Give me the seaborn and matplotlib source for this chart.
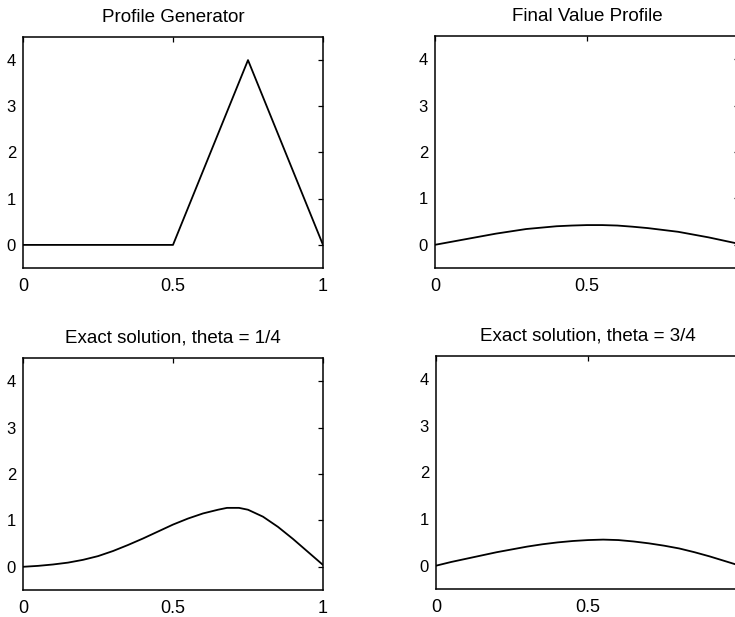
import numpy as np
import pandas as pd
import matplotlib
matplotlib.use("Agg")
import matplotlib.pyplot as plt
import seaborn as sns

sns.set_theme(style="white")
plt.rcParams['font.family'] = ['Liberation Sans', 'DejaVu Sans']

# ---- data ----
gen_x = [0.0, 0.5, 0.75, 1.0]
gen_y = [0.0, 0.0, 4.0, 0.0]

final_x = [0.0, 0.05, 0.1, 0.15, 0.2, 0.25, 0.3, 0.35, 0.4, 0.45, 0.5,
           0.55, 0.6, 0.65, 0.7, 0.75, 0.8, 0.85, 0.9, 0.95, 1.0]
final_y = [0.0, 0.06, 0.12, 0.18, 0.24, 0.29, 0.34, 0.37, 0.40, 0.415, 0.425,
           0.425, 0.415, 0.39, 0.36, 0.32, 0.28, 0.22, 0.16, 0.09, 0.02]

exact14_x = [0.0, 0.05, 0.1, 0.15, 0.2, 0.25, 0.3, 0.35, 0.4, 0.45, 0.5,
             0.55, 0.6, 0.65, 0.68, 0.72, 0.75, 0.8, 0.85, 0.9, 0.95, 1.0]
exact14_y = [0.0, 0.02, 0.05, 0.09, 0.15, 0.23, 0.34, 0.47, 0.61, 0.76, 0.91,
             1.04, 1.15, 1.23, 1.27, 1.27, 1.23, 1.08, 0.86, 0.60, 0.32, 0.04]

exact34_x = [0.0, 0.05, 0.1, 0.15, 0.2, 0.25, 0.3, 0.35, 0.4, 0.45, 0.5,
             0.55, 0.6, 0.65, 0.7, 0.75, 0.8, 0.85, 0.9, 0.95, 1.0]
exact34_y = [0.0, 0.08, 0.15, 0.22, 0.29, 0.35, 0.41, 0.46, 0.50, 0.53, 0.55,
             0.56, 0.55, 0.52, 0.48, 0.43, 0.37, 0.29, 0.20, 0.10, 0.0]

titles = ["Profile Generator", "Final Value Profile",
          "Exact solution, theta = 1/4", "Exact solution, theta = 3/4"]
x_ticks = [0, 0.5, 1]
x_tick_labels = ["0", "0.5", "1"]
y_ticks = [0, 1, 2, 3, 4]

series = [(gen_x, gen_y), (final_x, final_y),
          (exact14_x, exact14_y), (exact34_x, exact34_y)]

W, H = 735, 617
fig = plt.figure(figsize=(W / 100, H / 100), dpi=100)

# axes boxes in pixels: left, top, right, bottom
boxes = [(23, 37, 323, 268), (435, 36, 739, 268),
         (23, 358, 323, 590), (436, 356, 740, 589)]

for (l, t, r, b), title, (xs, ys) in zip(boxes, titles, series):
    ax = fig.add_axes([l / W, (H - b) / H, (r - l) / W, (b - t) / H])
    df = pd.DataFrame({"x": xs, "y": ys})
    sns.lineplot(data=df, x="x", y="y", ax=ax, color="black", linewidth=1.3,
                 sort=False, estimator=None)
    ax.set_xlim(0, 1)
    ax.set_ylim(-0.5, 4.5)
    ax.set_xticks(x_ticks)
    ax.set_xticklabels(x_tick_labels)
    ax.set_yticks(y_ticks)
    ax.set_xlabel("")
    ax.set_ylabel("")
    ax.set_title(title, fontsize=13.5, pad=11, color="black")
    for s in ax.spines.values():
        s.set_visible(True)
        s.set_color("black")
        s.set_linewidth(1.1)
    ax.tick_params(direction="in", length=3.5, width=0.9, top=True, right=True,
                   colors="black")
    ax.tick_params(axis="x", labelsize=13, pad=7)
    ax.tick_params(axis="y", labelsize=12, pad=5)
    ax.grid(False)
    ax.set_facecolor("white")

fig.savefig("out.png", dpi=100, facecolor="white")
